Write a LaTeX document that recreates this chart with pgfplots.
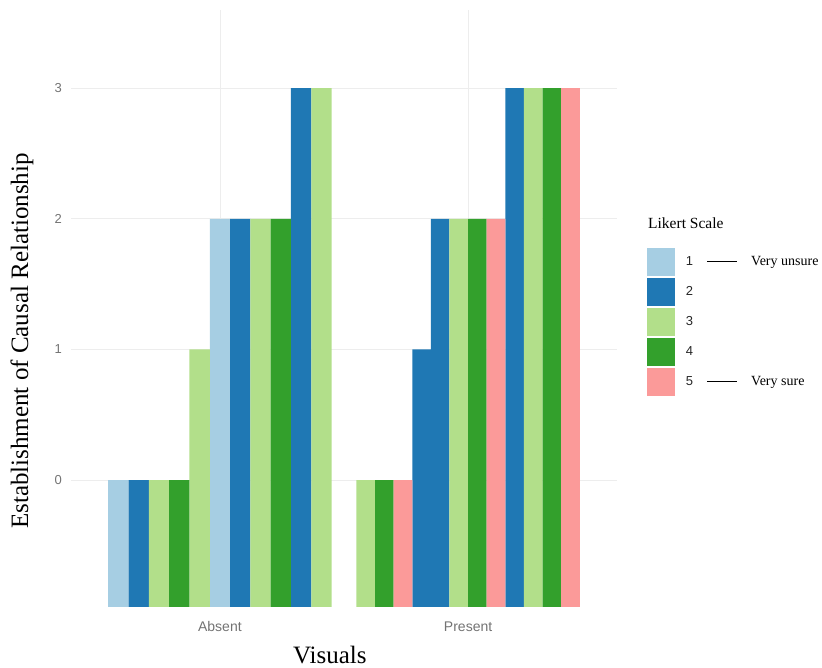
\documentclass[border=0pt]{standalone}
\usepackage{fontspec}
\setmainfont{Liberation Serif}
\setsansfont{Liberation Sans}
\usepackage{pgfplots}
\pgfplotsset{compat=1.18}
\definecolor{c1}{HTML}{A6CEE3}
\definecolor{c2}{HTML}{1F78B4}
\definecolor{c3}{HTML}{B2DF8A}
\definecolor{c4}{HTML}{33A02C}
\definecolor{c5}{HTML}{FB9A99}
\begin{document}
\begin{tikzpicture}
\useasboundingbox (0,0) rectangle (822pt,668pt);
\begin{axis}[
  at={(71pt,61pt)}, anchor=south west,
  scale only axis, width=546pt, height=597pt,
  xmin=0.4, xmax=2.6, ymin=0, ymax=4.567,
  clip=false,
  axis line style={draw=none}, tick style={draw=none},
  xtick={1,2}, xticklabels={Absent,Present},
  ytick={0.97,1.97,2.97,3.97}, yticklabels={0,1,2,3},
  /pgf/number format/assume math mode=true,
  grid=major, major grid style={color=black!7, line width=0.7pt},
  xticklabel style={font=\sffamily\fontsize{14}{16}\selectfont, text=black!55, inner sep=0pt, anchor=north, yshift=-10pt},
  yticklabel style={font=\sffamily\fontsize{13}{15}\selectfont, text=black!55, inner sep=0pt, anchor=east, xshift=-9pt},
  xlabel={Visuals}, ylabel={Establishment of Causal Relationship},
  label style={font=\fontsize{25}{30}\selectfont},
  x label style={at={(axis description cs:0.474,-0.080)}, anchor=center},
  y label style={at={(axis description cs:-0.0897,0.4456)}, anchor=center},
  ybar, 
  legend style={at={(rel axis cs:1.0549,0.6013)}, anchor=north west, draw=none, fill=none,
     inner sep=0pt, outer sep=0pt, row sep=2pt,
     nodes={inner sep=0pt, anchor=west}},
  legend cell align=left,
  legend image code/.code={\fill[#1, draw=none] (0pt,-14pt) rectangle (28pt,14pt);},
]
% Absent group (11 bars, width 0.9/11)
\addplot[fill=c1, draw=none, bar shift=0pt, bar width=0.081818, forget plot] table[x=x, y expr=\thisrow{v}+0.97, row sep=\\] {x v\\ 0.5909 0\\ 1.0000 2\\};
\addplot[fill=c2, draw=none, bar shift=0pt, bar width=0.081818, forget plot] table[x=x, y expr=\thisrow{v}+0.97, row sep=\\] {x v\\ 0.6727 0\\ 1.0818 2\\ 1.3273 3\\};
\addplot[fill=c3, draw=none, bar shift=0pt, bar width=0.081818, forget plot] table[x=x, y expr=\thisrow{v}+0.97, row sep=\\] {x v\\ 0.7545 0\\ 0.9182 1\\ 1.1636 2\\ 1.4091 3\\};
\addplot[fill=c4, draw=none, bar shift=0pt, bar width=0.081818, forget plot] table[x=x, y expr=\thisrow{v}+0.97, row sep=\\] {x v\\ 0.8364 0\\ 1.2455 2\\};
% Present group (12 bars, width 0.9/12)
\addplot[fill=c2, draw=none, bar shift=0pt, bar width=0.075, forget plot] table[x=x, y expr=\thisrow{v}+0.97, row sep=\\] {x v\\ 1.8125 1\\ 1.8875 2\\ 2.1875 3\\};
\addplot[fill=c3, draw=none, bar shift=0pt, bar width=0.075, forget plot] table[x=x, y expr=\thisrow{v}+0.97, row sep=\\] {x v\\ 1.5875 0\\ 1.9625 2\\ 2.2625 3\\};
\addplot[fill=c4, draw=none, bar shift=0pt, bar width=0.075, forget plot] table[x=x, y expr=\thisrow{v}+0.97, row sep=\\] {x v\\ 1.6625 0\\ 2.0375 2\\ 2.3375 3\\};
\addplot[fill=c5, draw=none, bar shift=0pt, bar width=0.075, forget plot] table[x=x, y expr=\thisrow{v}+0.97, row sep=\\] {x v\\ 1.7375 0\\ 2.1125 2\\ 2.4125 3\\};
% legend
\addlegendimage{fill=c1, draw=none}
\addlegendentry{\hspace{11pt}{\sffamily\fontsize{13}{15}\selectfont\color{black!85}1}\hspace{14pt}\rule[4pt]{30pt}{0.8pt}\hspace{14pt}{\fontsize{14}{16}\selectfont Very unsure}}
\addlegendimage{fill=c2, draw=none}
\addlegendentry{\hspace{11pt}{\sffamily\fontsize{13}{15}\selectfont\color{black!85}2}}
\addlegendimage{fill=c3, draw=none}
\addlegendentry{\hspace{11pt}{\sffamily\fontsize{13}{15}\selectfont\color{black!85}3}}
\addlegendimage{fill=c4, draw=none}
\addlegendentry{\hspace{11pt}{\sffamily\fontsize{13}{15}\selectfont\color{black!85}4}}
\addlegendimage{fill=c5, draw=none}
\addlegendentry{\hspace{11pt}{\sffamily\fontsize{13}{15}\selectfont\color{black!85}5}\hspace{14pt}\rule[4pt]{30pt}{0.8pt}\hspace{14pt}{\fontsize{14}{16}\selectfont Very sure}}
\node[anchor=west, inner sep=0pt, font=\fontsize{15.5}{18}\selectfont] at (rel axis cs:1.0568,0.6432) {Likert Scale};
\end{axis}
\end{tikzpicture}
\end{document}
